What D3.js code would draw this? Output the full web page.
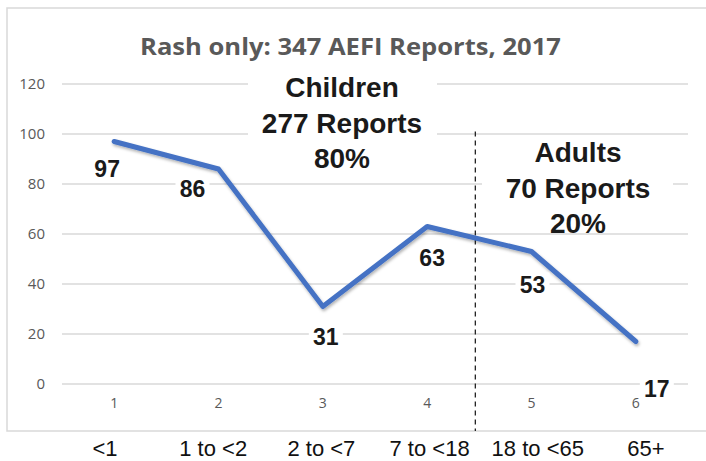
<!DOCTYPE html>
<html>
<head>
<meta charset="utf-8">
<script src="https://cdn.jsdelivr.net/npm/d3@7"></script>
<style>
  html, body { margin: 0; padding: 0; background: #fff; }
  svg { display: block; }
</style>
</head>
<body>
<div id="chart"></div>
<script>
// data
var categories = ["1", "2", "3", "4", "5", "6"];
var ageGroups = ["<1", "1 to <2", "2 to <7", "7 to <18", "18 to <65", "65+"];
var reports = [97, 86, 31, 63, 53, 17];
var yTicks = [0, 20, 40, 60, 80, 100, 120];
var childrenText = ["Children", "277 Reports", "80%"];
var adultsText = ["Adults", "70 Reports", "20%"];
var title = "Rash only: 347 AEFI Reports, 2017";

var W = 706, H = 461;
var svg = d3.select("#chart").append("svg")
    .attr("width", W)
    .attr("height", H);

var defs = svg.append("defs");
var shadow = defs.append("filter").attr("id", "shadow")
    .attr("x", "-10%").attr("y", "-10%").attr("width", "120%").attr("height", "130%");
shadow.append("feDropShadow")
    .attr("dx", 1).attr("dy", 2).attr("stdDeviation", 1.5)
    .attr("flood-color", "#000").attr("flood-opacity", 0.3);

// chart frame
svg.append("rect")
    .attr("x", 7).attr("y", 8)
    .attr("width", 720).attr("height", 423)
    .attr("fill", "none")
    .attr("stroke", "#d9d9d9")
    .attr("stroke-width", 1.5);

svg.append("text")
    .attr("x", 140).attr("y", 55)
    .attr("textLength", 421)
    .attr("lengthAdjust", "spacingAndGlyphs")
    .style("font-family", "'Open Sans', sans-serif")
    .style("font-weight", 700)
    .style("font-size", "24px")
    .style("fill", "#595959")
    .text(title);

var x = d3.scaleBand().domain(categories).range([62, 688]);
var y = d3.scaleLinear().domain([0, 120]).range([384, 84]);
var cx = function(c) { return x(c) + x.bandwidth() / 2; };

// gridlines
svg.append("g").selectAll("line")
  .data(yTicks)
  .enter().append("line")
    .attr("x1", 62).attr("x2", 688)
    .attr("y1", function(d) { return y(d); })
    .attr("y2", function(d) { return y(d); })
    .attr("stroke", "#d9d9d9")
    .attr("stroke-width", 1.3);

// y axis labels
var yAxis = svg.append("g")
    .attr("transform", "translate(53,0)")
    .call(d3.axisLeft(y).tickValues(yTicks).tickSize(0).tickPadding(8));
yAxis.select(".domain").remove();
yAxis.selectAll("text")
    .style("font-family", "'Open Sans', sans-serif")
    .style("font-size", "15px")
    .style("fill", "#595959");

// x axis labels (1..6)
var xAxis = svg.append("g")
    .attr("transform", "translate(0,398)")
    .call(d3.axisBottom(x).tickSize(0).tickPadding(0));
xAxis.select(".domain").remove();
xAxis.selectAll("text")
    .attr("dy", "0.71em")
    .style("font-family", "'Open Sans', sans-serif")
    .style("font-size", "14px")
    .style("fill", "#595959");

// age group row under the frame
var xAge = d3.scalePoint().domain(ageGroups).range([105, 646]);
svg.append("g").selectAll("text")
  .data(ageGroups)
  .enter().append("text")
    .attr("x", function(d) { return xAge(d); })
    .attr("y", 456)
    .attr("text-anchor", "middle")
    .style("font-family", "'Liberation Sans', Arial, sans-serif")
    .style("font-size", "22px")
    .style("fill", "#111")
    .text(function(d) { return d; });

// text boxes (white fill hides the gridlines)
function textBox(lines, cxp, top, boxX, boxW, boxY, boxH) {
  var g = svg.append("g");
  g.append("rect")
      .attr("x", boxX).attr("y", boxY)
      .attr("width", boxW).attr("height", boxH)
      .attr("fill", "#fff");
  g.selectAll("text")
    .data(lines)
    .enter().append("text")
      .attr("x", cxp)
      .attr("y", function(d, i) { return top + i * 35.5; })
      .attr("text-anchor", "middle")
      .style("font-family", "'Liberation Sans', Arial, sans-serif")
      .style("font-weight", 700)
      .style("font-size", "28px")
      .style("fill", "#1a1a1a")
      .text(function(d) { return d; });
}
textBox(childrenText, 342, 97, 248, 189, 66, 106);
textBox(adultsText, 578, 162, 482, 191, 138, 94);

// divider between children and adults
var divX = x("4") + x.bandwidth() - 4;
svg.append("line")
    .attr("x1", divX).attr("x2", divX)
    .attr("y1", y(101)).attr("y2", 431)
    .attr("stroke", "#222")
    .attr("stroke-width", 1.3)
    .attr("stroke-dasharray", "5,4");

// the series line
var pts = categories.map(function(c, i) { return { c: c, v: reports[i] }; });
var line = d3.line()
    .x(function(d) { return cx(d.c); })
    .y(function(d) { return y(d.v); });
svg.append("path")
    .datum(pts)
    .attr("d", line)
    .attr("fill", "none")
    .attr("stroke", "#4472c4")
    .attr("stroke-width", 5)
    .attr("stroke-linejoin", "round")
    .attr("stroke-linecap", "round")
    .attr("filter", "url(#shadow)");

// data labels, nudged as in the original
var nudge = [[-7, 27], [-26, 20], [3, 30], [5, 31], [1, 33], [21, 47]];
var lab = svg.append("g").selectAll("g")
  .data(pts)
  .enter().append("g")
    .attr("transform", function(d, i) {
      return "translate(" + (cx(d.c) + nudge[i][0]) + "," + (y(d.v) + nudge[i][1]) + ")";
    });
lab.append("rect")
    .attr("x", -17).attr("y", -12)
    .attr("width", 34).attr("height", 24)
    .attr("fill", "#fff");
lab.append("text")
    .attr("text-anchor", "middle")
    .attr("dy", "0.36em")
    .style("font-family", "'Liberation Sans', Arial, sans-serif")
    .style("font-weight", 700)
    .style("font-size", "23px")
    .style("fill", "#1a1a1a")
    .text(function(d) { return d.v; });
</script>
</body>
</html>
